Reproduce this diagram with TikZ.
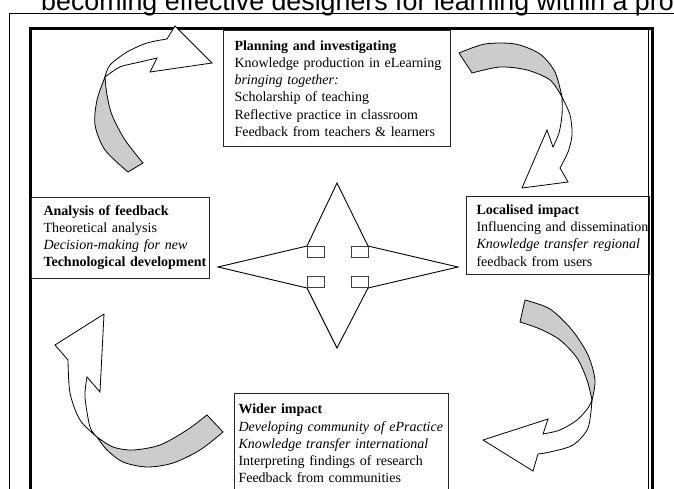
\documentclass[tikz,border=0pt]{standalone}
\usepackage{fontspec}
\setmainfont{Liberation Serif}
\newfontfamily\headfont{Liberation Sans}
\tikzset{
	infobox/.style = {draw=black!85, line width=1pt, anchor=north west, align=left,
		inner ysep=8pt, font=\fontsize{14}{17.2}\selectfont},
	ribbon/.style = {draw=black, line width=0.8pt, line join=miter},
	backside/.style = {ribbon, fill=black!20},
	frontside/.style = {ribbon, fill=white},
	hub/.style = {draw=black, line width=0.9pt},
	knob/.style = {draw=black!75, line width=0.9pt}
}

\begin{document}
\begin{tikzpicture}[x=1pt,y=-1pt]
\useasboundingbox (0,0) rectangle (674,488);
\clip (0,0) rectangle (674,488);

% heading line running off the top
\node[font=\headfont\fontsize{26.8}{30}\selectfont, anchor=base west, inner sep=0] (heading)
	at (41,10) {becoming effective designers for learning within a pro};

% page frame
\draw[line width=1pt] (9,13) rectangle (700,520);
\draw[line width=3pt] (30,28) rectangle (652,520);
\draw[line width=1pt] (648,28) -- (648,520);

% the four stages
\node[infobox, inner xsep=11pt, text width=205pt, minimum height=116pt] (plan) at (223,30)
	{\textbf{Planning and investigating}\\
	 \mbox{Knowledge production in eLearning}\\
	 \textit{bringing together:}\\
	 Scholarship of teaching\\
	 Reflective practice in classroom\\
	 \mbox{Feedback from teachers \& learners}};
\node[infobox, inner xsep=12pt, text width=154pt, minimum height=79pt] (analysis) at (31,197)
	{\textbf{Analysis of feedback}\\
	 Theoretical analysis\\
	 \textit{Decision-making for new}\\
	 \mbox{\textbf{Technological development}}};
\node[infobox, inner xsep=10pt, text width=163pt, minimum height=78pt] (local) at (466,196)
	{\textbf{Localised impact}\\
	 \mbox{Influencing and dissemination}\\
	 \mbox{\textit{Knowledge transfer regional}}\\
	 feedback from users};
\node[infobox, inner xsep=4pt, text width=206pt, minimum height=100pt] (wider) at (234,393)
	{\textbf{Wider impact}\\
	 \mbox{\textit{Developing community of ePractice}}\\
	 \textit{Knowledge transfer international}\\
	 Interpreting findings of research\\
	 Feedback from communities};

% centre star
\draw[hub] (337,183) -- (368,246) -- (458,267) -- (368,288) -- (337,348)
	-- (307,288) -- (218,267) -- (307,246) -- cycle;
\foreach \x/\y in {307/246, 351/246, 307/276, 351/276}
	\draw[knob] (\x,\y) rectangle ++(17,11.5);

% top left ribbon arrow
\filldraw[backside] plot[smooth] coordinates {(105,77) (97,100) (95,125) (105,150) (128,172)}
	-- plot[smooth] coordinates {(143,163) (125,140) (112,115) (107,95) (105,77)} -- cycle;
\filldraw[frontside] plot[smooth] coordinates {(105,77) (110,65) (127,52) (147,43) (167,39)}
	-- (175,26) -- (212,63) -- (150,72)
	-- plot[smooth] coordinates {(157,58) (140,62) (120,67) (105,77)} -- cycle;

% top right ribbon arrow
\filldraw[backside] plot[smooth] coordinates {(459,53) (485,44) (515,44) (540,54) (555,72) (562,97)}
	-- plot[smooth] coordinates {(562,97) (550,80) (527,70) (500,67) (472,73)} -- cycle;
\filldraw[frontside] plot[smooth] coordinates {(562,97) (570,115) (572,135) (568,152) (560,168)}
	-- (568,182) -- (522,188) -- (547,130)
	-- plot[smooth] coordinates {(553,147) (559,133) (562,115) (562,97)} -- cycle;

% bottom right ribbon arrow
\filldraw[backside] plot[smooth] coordinates {(525,300) (550,309) (572,330) (588,355) (595,380) (592,400)}
	-- plot[smooth] coordinates {(592,400) (587,380) (577,358) (560,340) (540,329) (520,322)} -- cycle;
\filldraw[frontside] plot[smooth] coordinates {(592,400) (588,428) (573,445) (550,452) (538,454)}
	-- (533,471) -- (483,440) -- (548,419)
	-- plot[smooth] coordinates {(543,434) (560,430) (577,420) (588,408) (592,400)} -- cycle;

% bottom left ribbon arrow
\filldraw[backside] plot[smooth] coordinates {(207,415) (187,430) (160,445) (133,450) (113,447) (97,437)}
	-- plot[smooth] coordinates {(97,437) (107,450) (123,462) (147,467) (173,463) (200,450) (223,432)} -- cycle;
\filldraw[frontside] plot[smooth] coordinates {(97,437) (80,420) (70,393) (68,360)}
	-- (55,345) -- (104,314) -- (100,392)
	-- plot[smooth] coordinates {(87,377) (85,397) (90,427) (97,437)} -- cycle;
\end{tikzpicture}
\end{document}
